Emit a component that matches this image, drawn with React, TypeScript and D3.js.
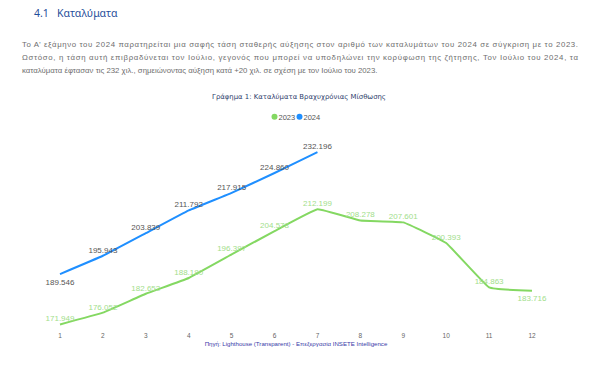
import React from 'react'
import { scaleLinear, line, curveCardinal } from 'd3'

// months 1..12
const months = [1, 2, 3, 4, 5, 6, 7, 8, 9, 10, 11, 12]
const values2023 = [171.949, 176.052, 182.652, 188.18, 196.397, 204.578, 212.199, 208.278, 207.601, 200.393, 184.863, 183.716]
const values2024 = [189.546, 195.943, 203.839, 211.792, 217.915, 224.86, 232.196]
const seriesNames = ['2023', '2024']

const heading = '4.1'
const headingTitle = 'Καταλύματα'
const paragraph = [
  'Το Α’ εξάμηνο του 2024 παρατηρείται μια σαφής τάση σταθερής αύξησης στον αριθμό των καταλυμάτων του 2024 σε σύγκριση με το 2023.',
  'Ωστόσο, η τάση αυτή επιβραδύνεται τον Ιούλιο, γεγονός που μπορεί να υποδηλώνει την κορύφωση της ζήτησης, Τον Ιούλιο του 2024, τα',
  'καταλύματα έφτασαν τις 232 χιλ., σημειώνοντας αύξηση κατά +20 χιλ. σε σχέση με τον Ιούλιο του 2023.',
]
const chartTitle = 'Γράφημα 1: Καταλύματα Βραχυχρόνιας Μίσθωσης'
const sourceText = 'Πηγή: Lighthouse (Transparent) - Επεξεργασία INSETE Intelligence'

const fmt = (v: number) => v.toFixed(3)

export default function App() {
  const width = 600, height = 389
  const x = scaleLinear().domain([1, 12]).range([60, 532])
  const y = scaleLinear().domain([170, 235]).range([330, 144])

  const path = line<number>()
    .x((_, i) => x(months[i]))
    .y(d => y(d))
    .curve(curveCardinal.tension(0.75))

  const blue = '#1f8fff'
  const green = '#84d862'
  const greenLabel = '#a2de8b'
  const sans = '"Liberation Sans", Arial, sans-serif'

  return (
    <svg width={width} height={height} style={{ position: 'absolute', left: 0, top: 0, background: '#fff' }}>
      {/* heading */}
      <text x={34} y={17} fontFamily='"Noto Sans", sans-serif' fontSize={10.5} fill="#1f4e9a">{heading}</text>
      <text x={57} y={17} fontFamily='"Noto Sans", sans-serif' fontSize={10.5} fill="#1f4e9a">{headingTitle}</text>

      {/* paragraph */}
      {paragraph.map((t, i) => (
        <text key={i} x={22} y={47.3 + i * 13} fontFamily={sans} fontSize={7.8} fill="#6e6e6e"
          {...(i < 2 ? { textLength: 556, lengthAdjust: 'spacing' } : {})}>{t}</text>
      ))}

      {/* chart title */}
      <text x={299} y={99.3} textAnchor="middle" fontFamily='"DejaVu Sans", sans-serif' fontSize={6.9} fill="#2c3d6b">{chartTitle}</text>

      {/* legend */}
      <g fontFamily={sans} fontSize={7.5} fill="#555">
        <circle cx={274.5} cy={116.8} r={3} fill={green} />
        <text x={278.5} y={119.5}>{seriesNames[0]}</text>
        <circle cx={299.5} cy={116.8} r={3} fill={blue} />
        <text x={303.5} y={119.5}>{seriesNames[1]}</text>
      </g>

      {/* lines */}
      <path d={path(values2023) || ''} fill="none" stroke={green} strokeWidth={2} />
      <path d={path(values2024) || ''} fill="none" stroke={blue} strokeWidth={2} />

      {/* labels */}
      <g fontFamily={sans} fontSize={8} textAnchor="middle">
        {values2024.map((v, i) => {
          const below = i === 0
          return (
            <text key={'b' + i} x={x(months[i])} y={below ? y(v) + 10.5 : y(v) - 3} fill="#555">{fmt(v)}</text>
          )
        })}
        {values2023.map((v, i) => {
          const below = i === values2023.length - 1
          return (
            <text key={'g' + i} x={x(months[i])} y={below ? y(v) + 10.5 : y(v) - 3} fill={greenLabel}>{fmt(v)}</text>
          )
        })}
      </g>

      {/* x ticks */}
      <g fontFamily={sans} fontSize={6.5} fill="#666" textAnchor="middle">
        {months.map(m => (
          <text key={m} x={x(m)} y={338}>{m}</text>
        ))}
      </g>

      {/* source */}
      <text x={296} y={345.5} textAnchor="middle" fontFamily={sans} fontSize={6.1} fill="#3a3aa8">{sourceText}</text>
    </svg>
  )
}
